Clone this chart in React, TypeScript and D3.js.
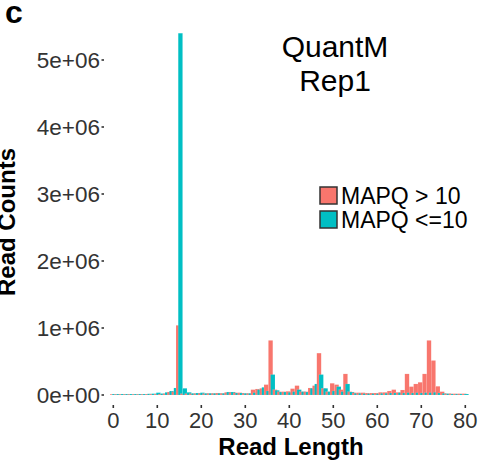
import React from "react";
import * as d3 from "d3";

const lengths: number[] = d3.range(0, 81);
// MAPQ > 10 (read counts, thousands)
const mapqHigh: number[] = [
  12, 12, 12, 12, 12, 12, 12, 12, 14, 14,
  15, 15, 20, 45, 50, 1040, 20, 20, 20, 22,
  25, 22, 25, 25, 30, 25, 40, 40, 35, 35,
  25, 25, 80, 90, 100, 155, 815, 80, 50, 50,
  55, 95, 140, 50, 50, 105, 140, 625, 100, 50,
  175, 155, 80, 315, 50, 35, 35, 35, 30, 30,
  30, 40, 40, 60, 80, 40, 75, 315, 125, 165,
  190, 315, 815, 515, 130, 50, 20, 20, 20, 20,
  20,
];
// MAPQ <= 10 (read counts, thousands)
const mapqLow: number[] = [
  15, 15, 15, 15, 15, 15, 15, 15, 18, 20,
  35, 22, 40, 60, 105, 5400, 100, 40, 25, 30,
  35, 25, 25, 25, 25, 25, 45, 45, 30, 30,
  25, 25, 35, 80, 115, 60, 305, 70, 45, 45,
  40, 50, 80, 50, 45, 100, 165, 305, 100, 50,
  60, 125, 50, 165, 45, 25, 25, 20, 20, 20,
  20, 25, 25, 30, 30, 35, 30, 35, 30, 35,
  30, 35, 35, 40, 30, 25, 20, 15, 15, 15,
  15,
];
const yTicks: number[] = [0, 1e6, 2e6, 3e6, 4e6, 5e6];
const yTickLabels: string[] = ["0e+00", "1e+06", "2e+06", "3e+06", "4e+06", "5e+06"];
const xTicks: number[] = [0, 10, 20, 30, 40, 50, 60, 70, 80];
const seriesNames: string[] = ["MAPQ > 10", "MAPQ <=10"];
const seriesColors: string[] = ["#F8766D", "#00BFC4"];

export default function App() {
  const W = 493;
  const H = 466;
  const x = d3.scaleLinear().domain([0, 80]).range([113.3, 465.3]);
  const y = d3.scaleLinear().domain([0, 5e6]).range([395, 60]);
  const font = "'Liberation Sans', Arial, sans-serif";

  type Bar = { key: string; x0: number; x1: number; v: number; color: string };
  const bars: Bar[] = [];
  lengths.forEach((L, i) => {
    bars.push({ key: "h" + L, x0: L - 0.75, x1: L + 0.25, v: mapqHigh[i] * 1000, color: seriesColors[0] });
    bars.push({ key: "l" + L, x0: L - 0.25, x1: L + 0.75, v: mapqLow[i] * 1000, color: seriesColors[1] });
  });

  return (
    <svg width={W} height={H} style={{ display: "block", position: "absolute", left: 0, top: 0 }}>
      <rect x={0} y={0} width={W} height={H} fill="#fff" />
      <text x={5} y={23} fontFamily={font} fontWeight="bold" fontSize={32} fill="#000">c</text>
      {bars.map((b) => (
        <rect
          key={b.key}
          x={x(b.x0)}
          y={y(b.v)}
          width={x(b.x1) - x(b.x0)}
          height={y(0) - y(b.v)}
          fill={b.color}
          stroke="#ffffff"
          strokeOpacity={0.25}
          strokeWidth={0.4}
        />
      ))}
      {yTicks.map((t, i) => (
        <g key={"y" + t}>
          <line x1={101.5} x2={104} y1={y(t)} y2={y(t)} stroke="#333" strokeWidth={1.6} />
          <text x={100} y={y(t)} dy="0.36em" textAnchor="end" fontFamily={font} fontSize={22.5} fill="#333">
            {yTickLabels[i]}
          </text>
        </g>
      ))}
      {xTicks.map((t) => (
        <g key={"x" + t}>
          <line x1={x(t)} x2={x(t)} y1={405} y2={408} stroke="#333" strokeWidth={1.6} />
          <text x={x(t)} y={428} textAnchor="middle" fontFamily={font} fontSize={22} fill="#333">
            {t}
          </text>
        </g>
      ))}
      <text x={291} y={455} textAnchor="middle" fontFamily={font} fontWeight="bold" fontSize={24} fill="#000">
        Read Length
      </text>
      <text
        transform={`translate(15,222) rotate(-90)`}
        textAnchor="middle"
        fontFamily={font}
        fontWeight="bold"
        fontSize={24}
        fill="#000"
      >
        Read Counts
      </text>
      <text x={335} y={57} textAnchor="middle" fontFamily={font} fontSize={30} fill="#000">QuantM</text>
      <text x={335} y={91} textAnchor="middle" fontFamily={font} fontSize={30} fill="#000">Rep1</text>
      {seriesNames.map((n, i) => (
        <g key={n}>
          <rect x={320} y={187 + i * 24} width={17} height={17} fill={seriesColors[i]} stroke="#333" strokeWidth={1.5} />
          <text x={341} y={195.5 + i * 24} dy="0.35em" fontFamily={font} fontSize={23} fill="#000">{n}</text>
        </g>
      ))}
    </svg>
  );
}
